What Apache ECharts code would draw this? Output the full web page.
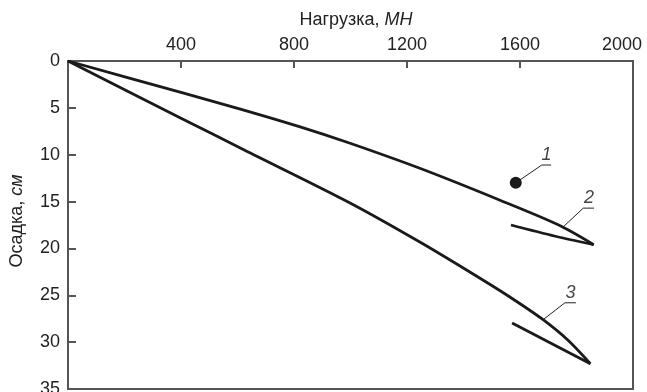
<!DOCTYPE html>
<html>
<head>
<meta charset="utf-8">
<script src="https://cdn.jsdelivr.net/npm/echarts@6/dist/echarts.min.js"></script>
<style>
  html, body { margin: 0; padding: 0; background: #fff; }
  #chart { width: 647px; height: 392px; }
</style>
</head>
<body>
<div id="chart"></div>
<script>
// Load (MN) vs settlement (cm)
const xTicks = [400, 800, 1200, 1600, 2000];
const yTicks = [0, 5, 10, 15, 20, 25, 30, 35];

// Curve 2: loading and unloading branches
const curve2Load = [[0, 0], [400, 3.35], [607, 5.1], [819, 7.0], [996, 8.75], [1250, 11.5], [1525, 14.8], [1737, 17.5], [1861, 19.6]];
const curve2Unload = [[1861, 19.6], [1725, 18.7], [1568, 17.5]];

// Curve 3: loading and unloading branches
const curve3Load = [[0, 0], [400, 6.1], [624, 9.5], [995, 15.1], [1250, 19.4], [1454, 23.1], [1560, 25.1], [1677, 27.5], [1770, 29.8], [1849, 32.3]];
const curve3Unload = [[1849, 32.3], [1572, 27.95]];

// Point 1
const point1 = [[1585, 13]];

// Callout leaders: start on the mark, elbow, end of underline
const leader1 = [[1585, 13], [1677, 11.1], [1710, 11.1]];
const leader2 = [[1753, 17.7], [1824, 15.7], [1862, 15.7]];
const leader3 = [[1682, 27.6], [1759, 25.8], [1798, 25.8]];
const calloutLabels = [
  { text: '1', at: [1694, 11.1] },
  { text: '2', at: [1844, 15.7] },
  { text: '3', at: [1779, 25.8] }
];

const ink = '#1a1a1a';
const axisColor = '#555';
const font = 'Liberation Sans, Arial, Helvetica, sans-serif';

function curve(data) {
  return {
    type: 'line', data: data, smooth: 0.3, symbol: 'none',
    lineStyle: { color: ink, width: 2.8 }, z: 3, silent: true
  };
}
function leader(data) {
  return {
    type: 'line', data: data, smooth: false, symbol: 'none',
    lineStyle: { color: '#222', width: 1 }, z: 2, silent: true
  };
}

const chart = echarts.init(document.getElementById('chart'), null, { renderer: 'canvas' });
chart.setOption({
  animation: false,
  backgroundColor: '#fff',
  grid: {
    left: 68, top: 61, right: 14, bottom: 3,
    outerBoundsMode: 'none', containLabel: false,
    show: true, borderColor: axisColor, borderWidth: 2, backgroundColor: 'transparent'
  },
  xAxis: {
    type: 'value', position: 'top', min: 0, max: 2000, interval: 400,
    name: '{n|Нагрузка, }{i|МН}', nameLocation: 'middle', nameGap: 32,
    nameTextStyle: {
      padding: [0, 0, 0, 11],
      rich: {
        n: { fontFamily: font, fontSize: 18, color: '#222' },
        i: { fontFamily: font, fontSize: 18, fontStyle: 'italic', color: '#222' }
      }
    },
    axisLine: { show: true, lineStyle: { color: axisColor, width: 2 } },
    axisTick: { show: true, inside: true, length: 7, lineStyle: { color: axisColor, width: 2 } },
    axisLabel: {
      fontFamily: font, fontSize: 18, color: '#222', margin: 7,
      formatter: v => {
        if (!xTicks.includes(v)) return '';
        return v === xTicks[xTicks.length - 1] ? '{last|' + v + '}' : String(v);
      },
      rich: {
        last: { fontFamily: font, fontSize: 18, color: '#222', padding: [0, 22, 0, 0] }
      }
    },
    splitLine: { show: false }
  },
  yAxis: {
    type: 'value', inverse: true, min: 0, max: 35, interval: 5,
    name: '{n|Осадка, }{i|см}', nameLocation: 'middle', nameGap: 42, nameRotate: 90,
    nameTextStyle: {
      padding: [0, 0, 0, 8],
      rich: {
        n: { fontFamily: font, fontSize: 18, color: '#222' },
        i: { fontFamily: font, fontSize: 18, fontStyle: 'italic', color: '#222' }
      }
    },
    axisLine: { show: true, lineStyle: { color: axisColor, width: 2 } },
    axisTick: { show: true, inside: true, length: 8, lineStyle: { color: axisColor, width: 2 } },
    axisLabel: {
      fontFamily: font, fontSize: 18, color: '#222', margin: 8,
      formatter: v => yTicks.includes(v) ? String(v) : ''
    },
    splitLine: { show: false }
  },
  series: [
    curve(curve2Load), curve(curve2Unload),
    curve(curve3Load), curve(curve3Unload),
    leader(leader1), leader(leader2), leader(leader3),
    {
      type: 'scatter', data: point1, symbol: 'circle', symbolSize: 12,
      itemStyle: { color: ink, opacity: 1 }, z: 4, silent: true
    },
    {
      type: 'scatter', symbolSize: 0, silent: true, z: 5,
      data: calloutLabels.map(c => ({ value: c.at, name: c.text })),
      label: {
        show: true, position: 'top', distance: 1,
        formatter: p => p.name,
        fontFamily: font, fontSize: 18, fontStyle: 'italic', color: '#111'
      }
    }
  ]
});
</script>
</body>
</html>
